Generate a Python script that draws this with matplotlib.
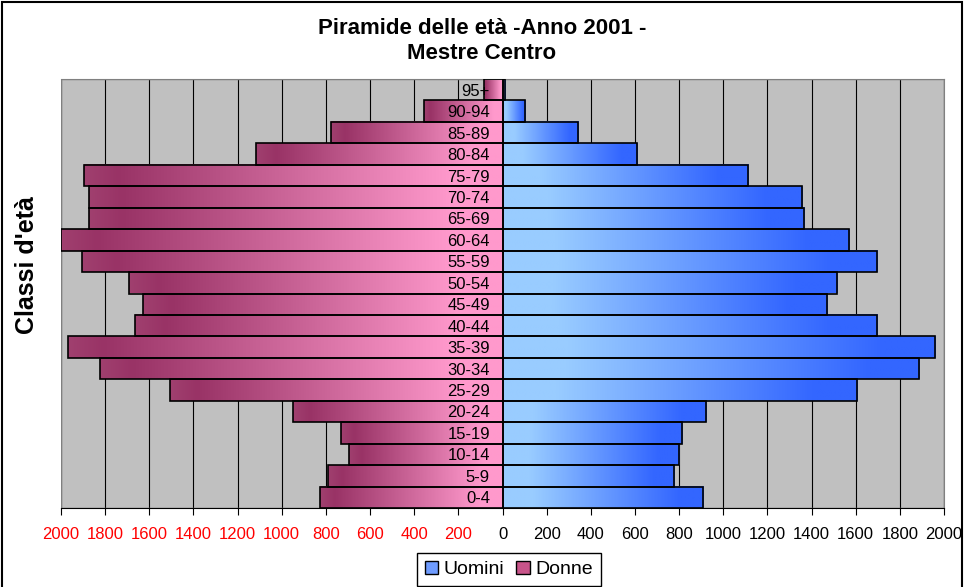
import numpy as np
import matplotlib
matplotlib.use('Agg')
import matplotlib.pyplot as plt
from matplotlib.colors import LinearSegmentedColormap
from matplotlib.patches import Rectangle, Patch

plt.rcParams['font.family'] = ['Liberation Sans', 'DejaVu Sans']

classi = ['0-4', '5-9', '10-14', '15-19', '20-24', '25-29', '30-34', '35-39',
          '40-44', '45-49', '50-54', '55-59', '60-64', '65-69', '70-74',
          '75-79', '80-84', '85-89', '90-94', '95+']
uomini = [909, 777, 800, 814, 923, 1608, 1885, 1958, 1695, 1470,
          1514, 1695, 1571, 1368, 1355, 1114, 611, 341, 100, 12]
donne = [826, 790, 695, 731, 948, 1506, 1825, 1970, 1666, 1630,
         1694, 1904, 1998, 1875, 1874, 1896, 1115, 775, 357, 86]

# gradienti tipo Excel
cmap_u = LinearSegmentedColormap.from_list(
    'u', [(0, '#99ccff'), (0.15, '#99ccff'), (0.88, '#3366ff'), (1, '#3366ff')])
cmap_d = LinearSegmentedColormap.from_list(
    'd', [(0, '#a0406f'), (0.08, '#993366'), (0.88, '#ff99cc'), (1, '#ff99cc')])
grad = np.linspace(0, 1, 256).reshape(1, -1)

fig = plt.figure(figsize=(9.65, 5.87), dpi=100)
ax = fig.add_axes([61/965, 1 - 508/587, 883/965, 429/587])
ax.set_facecolor('#c0c0c0')

y = np.arange(len(classi))
bars_u = ax.barh(y, uomini, height=1.0, facecolor='none',
                 edgecolor='black', linewidth=1.2, zorder=3)
bars_d = ax.barh(y, [-v for v in donne], height=1.0, facecolor='none',
                 edgecolor='black', linewidth=1.2, zorder=3)

for bars, cm in [(bars_u, cmap_u), (bars_d, cmap_d)]:
    for b in bars:
        x0, y0, x1, y1 = b.get_bbox().extents
        ax.imshow(grad, cmap=cm, aspect='auto', interpolation='bilinear',
                  extent=[min(x0, x1), max(x0, x1), y0, y1], zorder=2)

ax.set_xlim(-2000, 2000)
ax.set_ylim(-0.5, len(classi) - 0.5)

ticks = np.arange(-2000, 2001, 200)
ax.set_xticks(ticks)
ax.set_xticklabels([str(abs(t)) for t in ticks])
for t, lab in zip(ticks, ax.get_xticklabels()):
    lab.set_color('red' if t < 0 else 'black')
ax.tick_params(axis='x', direction='out', length=5, pad=9, labelsize=12)

ax.set_yticks(y)
ax.set_yticklabels(classi)
ax.spines['left'].set_position(('data', 0))
ax.spines['left'].set_visible(False)
ax.tick_params(axis='y', length=0, pad=9, labelsize=12)

# griglia sotto le barre, etichette delle classi sopra
ax.xaxis.grid(True, color='black', linewidth=0.8)
ax.xaxis.set_zorder(0.5)
ax.yaxis.set_zorder(5)
for s in ['top', 'right']:
    ax.spines[s].set_color('#808080')
ax.spines['bottom'].set_color('black')
ax.add_patch(Rectangle((0, 0), 1, 1, transform=ax.transAxes, fill=False,
                       edgecolor='#808080', linewidth=1, zorder=1.5))

fig.text(482/965, 1 - 41/587, 'Piramide delle età -Anno 2001 -\nMestre Centro',
         ha='center', va='center', fontsize=16, fontweight='bold', linespacing=1.3)
fig.text(27/965, 1 - 265/587, "Classi d'età", rotation=90, ha='center',
         va='center', fontsize=18, fontweight='bold')

handles = [Patch(facecolor='#6f9cff', edgecolor='black', linewidth=1),
           Patch(facecolor='#c8548a', edgecolor='black', linewidth=1)]
leg = fig.legend(handles, ['Uomini', 'Donne'], loc='upper center',
                 bbox_to_anchor=(509/965, 1 - 553/587), ncol=2, fontsize=14,
                 fancybox=False, edgecolor='black', framealpha=1,
                 handlelength=0.7, handleheight=0.7, handletextpad=0.3,
                 columnspacing=0.6, borderpad=0.4, borderaxespad=0)

fig.add_artist(Rectangle((2/965, -0.05), 960/965, 1.05 - 2/587,
                         transform=fig.transFigure, fill=False,
                         edgecolor='black', linewidth=1.5))

fig.savefig('out.png', dpi=100)
